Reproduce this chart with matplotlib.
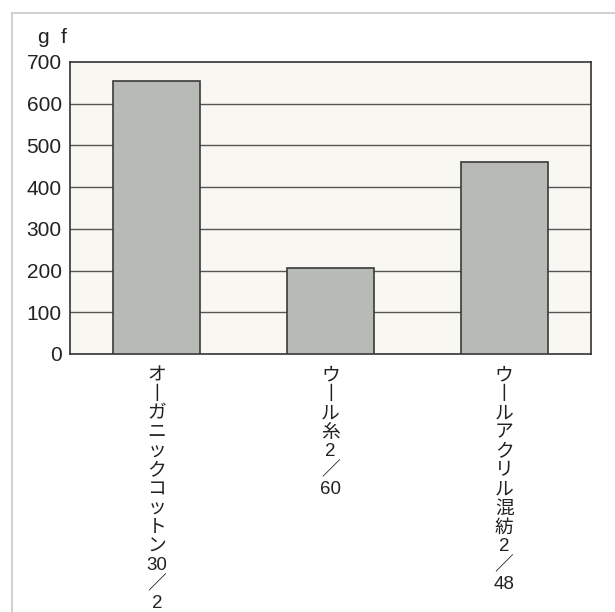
import matplotlib
matplotlib.use("Agg")
import matplotlib.pyplot as plt
from matplotlib.lines import Line2D

plt.rcParams['font.family'] = ['Liberation Sans', 'Noto Sans CJK JP', 'DejaVu Sans']

# Yarn strength (gf)
categories = ["オーガニックコットン30／2", "ウール糸2／60", "ウールアクリル混紡2／48"]
# label pieces, one entry per stacked row of vertical text
label_rows = [
    ["オ", "丨", "ガ", "ニ", "ッ", "ク", "コ", "ッ", "ト", "ン", "30", "／", "2"],
    ["ウ", "丨", "ル", "糸", "2", "／", "60"],
    ["ウ", "丨", "ル", "ア", "ク", "リ", "ル", "混", "紡", "2", "／", "48"],
]
values = [655, 205, 460]
yticks = [0, 100, 200, 300, 400, 500, 600, 700]
unit = "g  f"

DPI = 100
fig = plt.figure(figsize=(6.15, 6.12), dpi=DPI)
ax = fig.add_axes([0.1138, 0.4216, 0.8472, 0.4771])

ax.set_facecolor("#f8f7f1")
xs = [i + 0.5 for i in range(len(values))]
ax.bar(xs, values, width=0.5, color="#b8bab5", edgecolor="#3a3a3a",
       linewidth=1.2, zorder=3)

ax.set_xlim(0, 3)
ax.set_ylim(0, 700)
ax.set_yticks(yticks)
ax.set_yticklabels([str(t) for t in yticks], fontsize=15, color="#222222")
ax.tick_params(axis="y", length=0, pad=6)
ax.set_xticks([])
for t in yticks[1:-1]:
    ax.axhline(t, color="#555555", linewidth=1.0, zorder=1)
for s in ax.spines.values():
    s.set_color("#333333")
    s.set_linewidth(1.2)

# vertical (tategaki) category labels under each bar, one row at a time
row_step_px = 19.0
first_row_px = 22.0
px_to_pt = 72.0 / DPI
for x, rows in zip(xs, label_rows):
    for i, ch in enumerate(rows):
        off = -(first_row_px + row_step_px * i) * px_to_pt
        ax.annotate(ch, xy=(x, 0), xycoords="data",
                    xytext=(0, off), textcoords="offset points",
                    ha="center", va="center",
                    fontsize=13.5, color="#222222", annotation_clip=False)

fig.text(0.062, 0.9395, unit, fontsize=15, color="#222222", va="center")

# light frame on the top and left edges
fig.add_artist(Line2D([0.0195, 1.0], [0.9788, 0.9788], transform=fig.transFigure,
                      color="#c8c8c8", linewidth=1.2))
fig.add_artist(Line2D([0.0195, 0.0195], [0.0, 0.9788], transform=fig.transFigure,
                      color="#c8c8c8", linewidth=1.2))

fig.savefig("out.png", dpi=DPI, facecolor="white")
